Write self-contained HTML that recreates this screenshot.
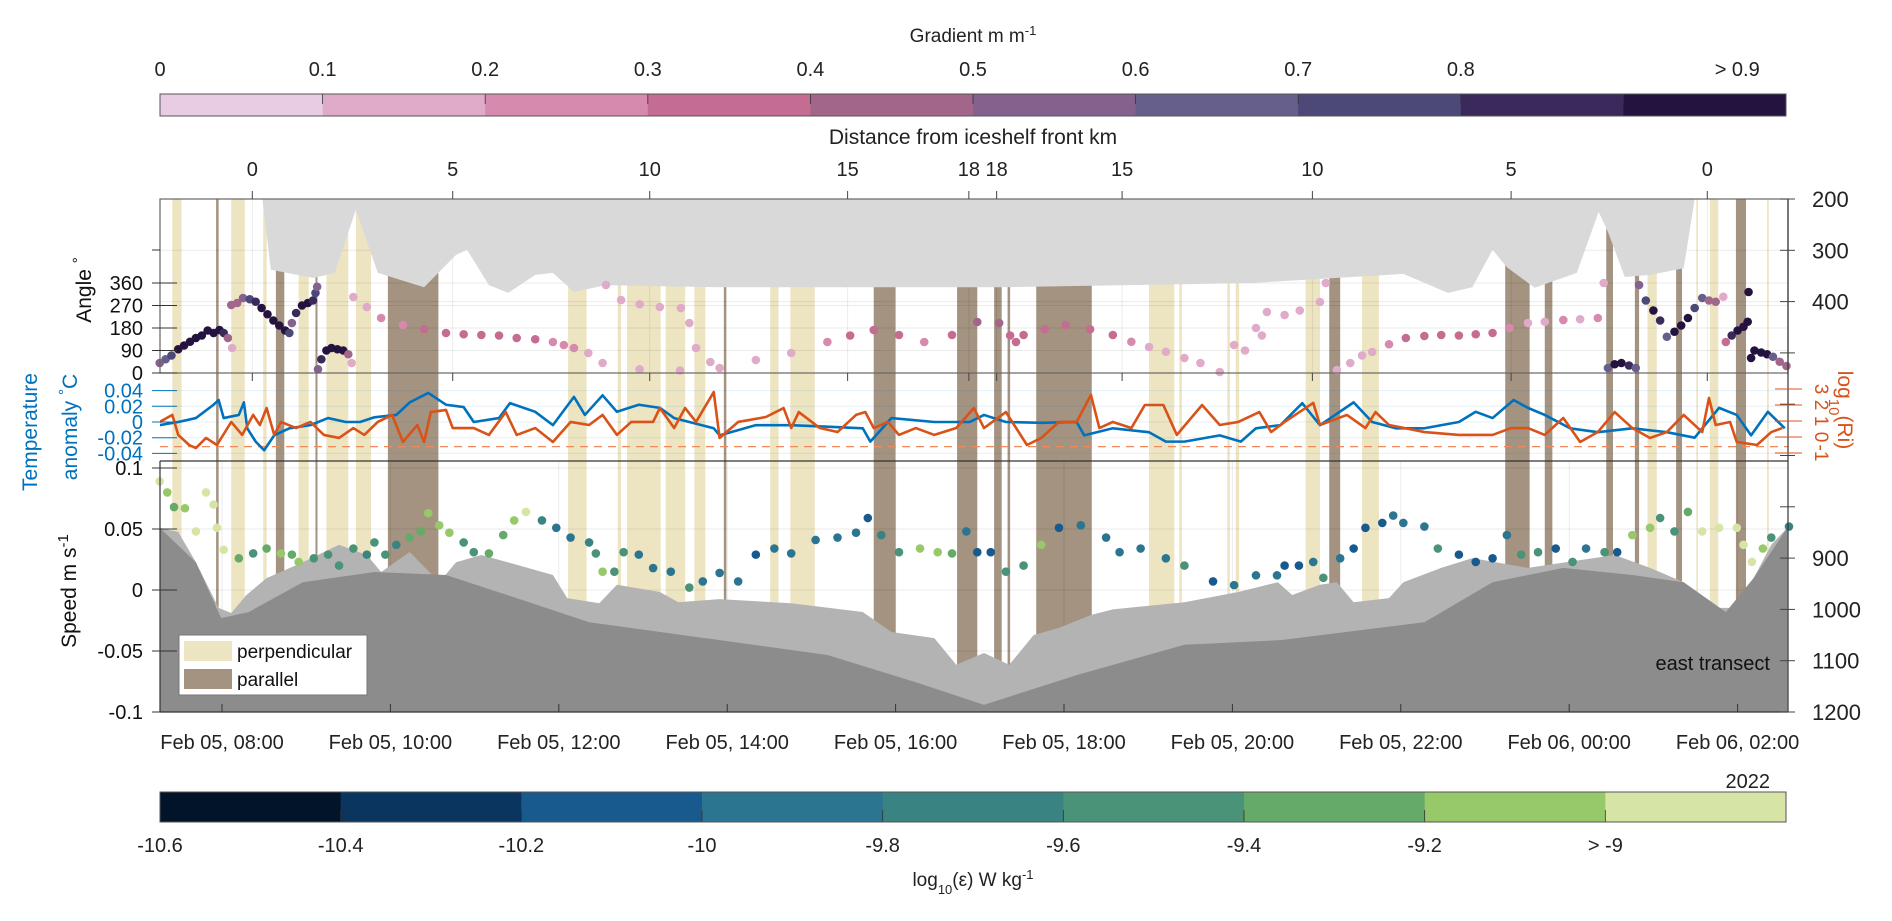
<!DOCTYPE html>
<html><head><meta charset="utf-8"><style>
html,body{margin:0;padding:0;background:#fff}
svg{display:block;font-family:"Liberation Sans",Arial,sans-serif}
</style></head><body>
<svg id="chart" width="1892" height="921" viewBox="0 0 1892 921" xmlns="http://www.w3.org/2000/svg">
<defs><clipPath id="plotclip"><rect x="160" y="199" width="1628" height="513"/></clipPath></defs>
<g id="bands" clip-path="url(#plotclip)"></g>
<g id="grid"></g>
<g id="ice" clip-path="url(#plotclip)"></g>
<g id="bathy" clip-path="url(#plotclip)"></g>
<g id="lines" clip-path="url(#plotclip)"></g>
<g id="dots"></g>
<g id="axes"></g>
<g id="cbars"></g>
<g>
<rect x="179" y="635" width="188" height="60" fill="#fff" stroke="#777" stroke-width="1"/>
<rect x="184" y="641" width="48" height="20" fill="#ede4c1"/>
<rect x="184" y="669" width="48" height="20" fill="#a39380"/>
<text x="237" y="658" font-size="19" fill="#111">perpendicular</text>
<text x="237" y="686" font-size="19" fill="#111">parallel</text>
</g>
<text x="1770" y="670" font-size="20" text-anchor="end" fill="#111">east transect</text>
</svg>
<script>
const iceT=[8.48,8.58,9.09,9.34,9.59,9.85,10.40,10.78,10.91,11.17,11.40,11.72,11.93,12.18,12.56,13.91,17.24,20.21,22.03,22.56,22.85,23.09,23.26,23.59,24.09,24.35,24.46,24.66,24.96,25.36,25.49];
const iceDepth=[200,338,354,344,221,344,372,309,299,368,383,348,344,381,368,372,372,364,346,383,372,299,333,373,344,225,264,352,348,335,200];
const lightT=[7.26,7.48,7.69,7.96,8.11,8.29,8.53,8.96,9.39,9.72,9.89,10.23,10.58,10.78,11.08,11.50,11.93,12.10,12.48,12.69,13.20,13.42,13.91,14.76,15.61,15.95,16.46,16.72,17.05,17.35,17.64,17.94,18.32,18.58,19.43,20.07,20.54,20.71,21.04,21.24,21.44,21.86,22.03,22.48,22.85,23.51,24.54,24.96,25.36,25.74,25.91,26.19,26.40,26.59];
const lightDepth=[841,849,908,997,1007,972,939,908,874,894,927,888,947,908,894,913,933,978,988,952,966,986,980,988,1005,1044,1056,1108,1085,1108,1050,1036,1011,1000,986,966,947,972,952,947,986,978,947,919,900,919,894,919,947,997,997,939,874,841];
const darkT=[7.26,7.69,7.99,8.32,8.96,9.81,10.66,11.50,12.36,13.91,15.19,16.24,17.05,18.15,19.43,20.57,22.28,23.09,23.93,24.75,25.36,25.86,26.19,26.59];
const darkDepth=[841,908,1017,1005,947,927,933,978,1025,1060,1089,1142,1186,1128,1069,1060,1025,947,919,933,947,1005,939,841];
const perpStart=[7.41,8.11,8.49,8.91,9.24,9.59,12.11,12.70,12.81,13.27,13.61,14.51,14.75,19.01,19.37,19.94,20.04,20.87,21.54,24.93,25.51,25.67,26.35];
const perpEnd=[7.52,8.27,8.53,9.03,9.50,9.77,12.33,12.74,13.21,13.50,13.74,14.61,15.04,19.31,19.40,19.97,20.08,21.04,21.74,25.04,25.53,25.77,26.37];
const paraStart=[7.93,8.64,9.11,9.97,13.96,15.74,16.73,17.17,17.33,17.67,21.15,23.24,23.71,24.44,24.78,25.27,25.98];
const paraEnd=[7.96,8.74,9.13,10.57,13.99,16.00,16.97,17.26,17.36,18.33,21.28,23.53,23.80,24.52,24.83,25.34,26.10];
const tempT=[7.26,7.48,7.69,7.90,7.96,8.02,8.20,8.26,8.30,8.40,8.50,8.62,8.80,9.05,9.26,9.47,9.64,9.81,10.07,10.23,10.45,10.66,10.87,10.99,11.29,11.42,11.72,11.93,12.18,12.31,12.52,12.69,12.95,13.20,13.37,13.55,13.84,13.91,14.34,14.76,15.19,15.61,15.70,15.95,16.46,16.88,17.05,17.31,17.73,18.15,18.24,18.58,19.01,19.21,19.43,19.85,20.10,20.28,20.57,20.83,21.04,21.44,21.66,21.94,22.28,22.69,22.89,23.09,23.34,23.51,23.71,24.01,24.34,24.75,25.16,25.49,25.78,25.99,26.16,26.36,26.56];
const tempVal=[-0.004,0,0.005,0.022,0.028,0.005,0.009,0.025,-0.008,-0.025,-0.036,-0.017,-0.008,-0.004,0.005,0,0,0.006,0.009,0.025,0.037,0.022,0.019,0,0.005,0.024,0.013,-0.004,0.032,0.009,0.034,0.013,0.022,0.018,0.005,0,-0.008,-0.017,-0.004,-0.004,-0.006,-0.008,-0.025,0.005,0,0,0.009,0,-0.001,0,-0.017,-0.008,-0.013,-0.025,-0.025,-0.017,-0.025,-0.008,-0.004,0.024,-0.004,0.025,0,-0.008,-0.008,0,0.013,0.005,0.028,0.018,0.009,-0.008,-0.013,-0.008,-0.013,-0.020,0.018,0.009,-0.017,0.013,-0.008];
const riT=[7.26,7.41,7.48,7.61,7.69,7.81,7.94,8.11,8.24,8.37,8.45,8.53,8.62,8.70,8.88,9.05,9.21,9.39,9.56,9.69,9.85,10.02,10.15,10.32,10.40,10.48,10.66,10.74,10.99,11.17,11.37,11.50,11.72,11.93,12.14,12.36,12.52,12.69,12.86,13.12,13.20,13.37,13.50,13.63,13.84,13.91,14.13,14.46,14.67,14.76,14.85,15.10,15.31,15.53,15.64,15.74,15.91,16.04,16.24,16.46,16.72,16.93,17.05,17.31,17.56,17.73,17.94,18.15,18.32,18.42,18.58,18.80,18.96,19.18,19.34,19.64,19.85,20.07,20.32,20.46,20.62,20.96,21.04,21.36,21.58,21.70,21.86,22.28,22.69,23.09,23.31,23.51,23.71,23.93,24.13,24.34,24.54,24.75,24.96,25.16,25.36,25.58,25.66,25.74,25.91,25.99,26.23,26.40,26.53];
const riVal=[0.94,1.38,0.13,-0.5,-0.69,-0.06,-0.5,0.94,0.13,1.38,0.75,1.81,0.13,0.94,0.56,0.94,0.13,-0.06,0.56,0.13,0.94,1.38,-0.31,0.75,-0.31,1.56,1.69,0.56,0.56,0.13,1.56,0.13,0.56,-0.31,0.94,0.75,1.38,0.13,0.94,0.94,1.81,0.56,1.81,0.94,2.81,-0.06,0.94,1.25,1.81,0.56,1.56,0.56,0.31,1.38,1.56,0.56,0.94,0.13,0.56,0.13,0.56,1.81,0.56,1.56,-0.5,-0.06,0.94,0.94,2.63,0.56,0.94,0.56,2.0,2.0,0.13,2.0,0.75,0.94,1.56,0.31,0.94,2.13,0.75,1.38,0.56,1.56,0.75,0.31,0.13,0.13,0.56,0.56,0.13,1.19,-0.31,0.31,1.56,0.56,-0.06,0.31,1.38,0.31,2.44,0.75,0.94,-0.31,-0.5,0.31,0.56];
const riCritical=-0.6;
const angT=[7.26,7.33,7.40,7.48,7.55,7.62,7.69,7.76,7.83,7.90,7.97,8.02,8.07,8.12,8.11,8.18,8.25,8.33,8.40,8.47,8.54,8.61,8.68,8.75,8.80,8.83,8.88,8.95,9.02,9.08,9.11,9.13,9.14,9.18,9.24,9.30,9.37,9.44,9.50,9.54,9.56,9.72,9.89,10.15,10.40,10.66,10.87,11.08,11.29,11.50,11.72,11.93,12.06,12.18,12.35,12.52,12.96,13.44,13.91,14.34,14.76,15.19,15.46,15.74,16.04,16.34,16.67,16.97,17.23,17.36,17.43,17.52,17.77,18.02,18.31,18.58,18.80,19.01,19.21,19.43,19.62,19.85,20.02,20.15,20.28,20.35,20.41,20.62,20.80,21.04,21.11,12.56,12.74,12.96,13.20,13.45,13.55,13.63,13.80,21.24,21.40,21.54,21.66,21.86,22.06,22.28,22.48,22.69,22.89,23.09,23.29,23.51,23.71,23.93,24.13,24.34,24.41,24.46,24.54,24.62,24.71,24.79,24.83,24.91,25.00,25.08,25.16,25.25,25.33,25.41,25.49,25.58,25.66,25.74,25.83,25.86,25.93,26.00,26.07,26.12,26.13,26.16,26.20,26.28,26.35,26.42,26.50,26.58];
const angVal=[40,55,70,95,110,125,140,150,170,160,172,160,140,100,272,280,300,295,285,260,235,210,190,170,160,200,240,270,280,290,320,345,15,55,90,100,95,90,75,40,304,264,220,192,175,160,155,152,150,140,135,124,112,100,80,40,15,10,20,52,80,124,150,172,152,124,152,204,200,150,124,152,175,192,175,152,125,104,85,60,40,4,112,90,180,150,244,232,250,284,360,352,292,275,264,260,200,100,44,12,40,70,84,115,140,148,152,150,155,160,180,200,205,212,215,220,360,20,35,40,30,20,352,290,250,210,145,165,190,220,260,300,290,285,305,124,150,170,185,205,324,60,90,82,75,65,45,28];
const angGrad=[0.55,0.6,0.7,0.9,0.95,0.95,0.95,0.95,0.95,0.95,0.95,0.8,0.45,0.1,0.4,0.45,0.5,0.7,0.8,0.95,0.95,0.95,0.95,0.9,0.7,0.5,0.8,0.95,0.95,0.8,0.7,0.5,0.5,0.8,0.95,0.95,0.95,0.9,0.4,0.15,0.15,0.15,0.2,0.25,0.3,0.3,0.35,0.35,0.35,0.3,0.3,0.25,0.2,0.2,0.15,0.15,0.15,0.1,0.15,0.15,0.15,0.25,0.3,0.3,0.3,0.25,0.3,0.4,0.4,0.3,0.35,0.3,0.3,0.3,0.3,0.3,0.2,0.15,0.15,0.15,0.15,0.1,0.1,0.1,0.15,0.15,0.15,0.15,0.15,0.15,0.1,0.15,0.15,0.15,0.15,0.15,0.1,0.1,0.1,0.1,0.15,0.15,0.15,0.2,0.3,0.35,0.35,0.35,0.35,0.35,0.2,0.15,0.15,0.2,0.15,0.25,0.15,0.6,0.9,0.95,0.8,0.6,0.5,0.7,0.9,0.8,0.6,0.95,0.95,0.9,0.7,0.6,0.45,0.4,0.1,0.3,0.8,0.95,0.95,0.95,0.95,0.95,0.95,0.95,0.9,0.6,0.45,0.4];
const spdT=[7.26,7.35,7.43,7.56,7.69,7.81,7.90,7.94,8.02,8.20,8.37,8.53,8.70,8.83,8.91,9.09,9.26,9.39,9.56,9.72,9.81,9.94,10.07,10.23,10.36,10.45,10.58,10.70,10.87,10.99,11.17,11.34,11.47,11.61,11.80,11.97,12.14,12.36,12.44,12.52,12.66,12.77,12.95,13.12,13.33,13.55,13.71,13.91,14.13,14.34,14.56,14.76,15.05,15.31,15.53,15.67,15.83,16.04,16.29,16.50,16.67,16.84,16.97,17.13,17.31,17.52,17.73,17.94,18.20,18.50,18.66,18.91,19.21,19.43,19.77,20.02,20.28,20.53,20.62,20.79,20.96,21.08,21.28,21.44,21.58,21.78,21.91,22.03,22.28,22.44,22.69,22.89,23.09,23.26,23.43,23.63,23.84,24.04,24.20,24.42,24.57,24.75,24.96,25.08,25.25,25.41,25.58,25.78,25.99,26.07,26.17,26.30,26.40,26.61];
const spdVal=[0.089,0.080,0.068,0.067,0.048,0.080,0.070,0.051,0.033,0.026,0.030,0.034,0.030,0.029,0.023,0.026,0.029,0.020,0.034,0.029,0.039,0.029,0.037,0.043,0.048,0.063,0.053,0.047,0.039,0.031,0.030,0.045,0.057,0.064,0.057,0.051,0.043,0.039,0.030,0.015,0.015,0.031,0.029,0.018,0.015,0.002,0.007,0.014,0.007,0.029,0.034,0.030,0.041,0.043,0.047,0.059,0.045,0.031,0.034,0.031,0.030,0.048,0.031,0.031,0.015,0.020,0.037,0.051,0.053,0.043,0.031,0.034,0.026,0.020,0.007,0.004,0.012,0.012,0.020,0.020,0.023,0.010,0.026,0.034,0.051,0.055,0.061,0.055,0.052,0.034,0.029,0.023,0.026,0.045,0.029,0.031,0.034,0.023,0.034,0.031,0.031,0.045,0.051,0.059,0.048,0.064,0.048,0.051,0.051,0.037,0.023,0.034,0.043,0.052];
const spdEps=[-8.9,-9.0,-9.3,-9.1,-8.9,-8.9,-8.9,-8.9,-8.9,-9.3,-9.4,-9.3,-9.1,-9.3,-9.1,-9.4,-9.4,-9.5,-9.5,-9.7,-9.6,-9.4,-9.7,-9.3,-9.3,-9.1,-9.0,-9.1,-9.4,-9.4,-9.3,-9.3,-9.2,-8.9,-9.7,-9.8,-9.8,-9.7,-9.4,-9.2,-9.4,-9.6,-9.8,-9.9,-9.9,-9.6,-9.8,-9.9,-9.8,-10.0,-9.8,-9.8,-9.8,-9.8,-9.9,-10.0,-9.7,-9.6,-9.2,-9.0,-9.3,-9.9,-10.0,-10.1,-9.5,-9.4,-9.2,-10.1,-9.8,-9.9,-9.9,-9.9,-9.9,-9.5,-10.0,-9.9,-9.9,-9.9,-10.1,-10.2,-9.9,-9.6,-9.9,-10.0,-10.0,-10.2,-9.9,-9.9,-9.9,-9.6,-10.1,-10.1,-10.0,-9.8,-9.4,-9.6,-10.2,-9.4,-9.8,-9.5,-10.1,-9.0,-9.2,-9.5,-9.6,-9.3,-8.9,-8.9,-8.9,-8.9,-8.9,-9.0,-9.5,-9.7];
const timeTicks=[8,10,12,14,16,18,20,22,24,26];
const timeLabels=["Feb 05, 08:00","Feb 05, 10:00","Feb 05, 12:00","Feb 05, 14:00","Feb 05, 16:00","Feb 05, 18:00","Feb 05, 20:00","Feb 05, 22:00","Feb 06, 00:00","Feb 06, 02:00"];
const distTickT=[8.36,10.74,13.08,15.43,16.87,17.20,18.69,20.95,23.31,25.64];
const distLabels=["0","5","10","15","18","18","15","10","5","0"];
const angleTicks=[0,90,180,270,360];
const depthTicks=[200,300,400,500,600,700,800,900,1000,1100,1200];
const depthLabelled=[200,300,400,900,1000,1100,1200];
const speedTicks=[-0.1,-0.05,0,0.05,0.1];
const tempTicks=[0.04,0.02,0,-0.02,-0.04];
const riTicks=[3,2,1,0,-1];
const gradBounds=[0,0.1,0.2,0.3,0.4,0.5,0.6,0.7,0.8,0.9,1.0];
const gradLabelPos=[0,0.1,0.2,0.3,0.4,0.5,0.6,0.7,0.8,0.97];
const gradLabels=["0","0.1","0.2","0.3","0.4","0.5","0.6","0.7","0.8","> 0.9"];
const gradColors=["#e8cce3","#e0aac9","#d68aad","#c56c92","#a2668b","#83628e","#665f8c","#4c4877","#3a2a5c","#25133f"];
const epsBounds=[-10.6,-10.4,-10.2,-10,-9.8,-9.6,-9.4,-9.2,-9,-8.8];
const epsLabels=["-10.6","-10.4","-10.2","-10","-9.8","-9.6","-9.4","-9.2","> -9"];
const epsColors=["#02142a","#0a355e","#185a8e","#2b7590","#3a8383","#4a9278","#65aa68","#97c96b","#d6e5a6"];

const NS="http://www.w3.org/2000/svg";
const X=t=>222+84.2*(t-8);
const yA=a=>373-a*0.25;
const yD=d=>199+(d-200)*0.513;
const yT=v=>422-v*785;
const yR=r=>437-r*16;
const yS=s=>590-s*1220;
function mk(tag,attrs,parent,text){const e=document.createElementNS(NS,tag);for(const k in attrs)e.setAttribute(k,attrs[k]);if(text!==undefined)e.textContent=text;parent.appendChild(e);return e;}
const G=id=>document.getElementById(id);

// bands
perpStart.forEach((s,i)=>{const r=mk('rect',{x:X(s),y:199,width:Math.max(1.5,X(perpEnd[i])-X(s)),height:513,fill:'#ede4c1'},G('bands'));

});
paraStart.forEach((s,i)=>{const r=mk('rect',{x:X(s),y:199,width:Math.max(2,X(paraEnd[i])-X(s)),height:513,fill:'#a39380'},G('bands'));

});

// grid
const grid=G('grid');
angleTicks.slice(1).forEach(a=>mk('line',{x1:160,x2:1788,y1:yA(a),y2:yA(a),stroke:'#000','stroke-opacity':0.08},grid));
[300,400].forEach(d=>mk('line',{x1:160,x2:1788,y1:yD(d),y2:yD(d),stroke:'#000','stroke-opacity':0.08},grid));
distTickT.forEach(t=>mk('line',{x1:X(t),x2:X(t),y1:199,y2:373,stroke:'#000','stroke-opacity':0.08},grid));
tempTicks.forEach(v=>mk('line',{x1:160,x2:1788,y1:yT(v),y2:yT(v),stroke:'#0072bd','stroke-opacity':0.1},grid));
timeTicks.forEach(t=>mk('line',{x1:X(t),x2:X(t),y1:461,y2:712,stroke:'#000','stroke-opacity':0.08},grid));
speedTicks.forEach(s=>mk('line',{x1:160,x2:1788,y1:yS(s),y2:yS(s),stroke:'#000','stroke-opacity':0.08},grid));

// ice shelf
let p=`${X(iceT[0])},199 `+iceT.map((t,i)=>`${X(t)},${yD(iceDepth[i])}`).join(' ')+` ${X(iceT[iceT.length-1])},199`;
const icep=mk('polygon',{points:p,fill:'#d9d9d9'},G('ice'));


// bathymetry
p=lightT.map((t,i)=>`${X(t)},${yD(lightDepth[i])}`).join(' ')+` ${X(lightT[lightT.length-1])},712 ${X(lightT[0])},712`;
const lp=mk('polygon',{points:p,fill:'#b3b3b3'},G('bathy'));


p=darkT.map((t,i)=>`${X(t)},${yD(darkDepth[i])}`).join(' ')+` ${X(darkT[darkT.length-1])},712 ${X(darkT[0])},712`;
const dp=mk('polygon',{points:p,fill:'#8c8c8c'},G('bathy'));



// lines
const rl=mk('line',{x1:160,x2:1788,y1:yR(riCritical),y2:yR(riCritical),stroke:'#f08a5d','stroke-width':1.3,'stroke-dasharray':'8,6'},G('lines'));


const tl=mk('polyline',{points:tempT.map((t,i)=>`${X(t)},${yT(tempVal[i])}`).join(' '),fill:'none',stroke:'#0072bd','stroke-width':2.6,'stroke-linejoin':'round'},G('lines'));


const ol=mk('polyline',{points:riT.map((t,i)=>`${X(t)},${yR(riVal[i])}`).join(' '),fill:'none',stroke:'#d95319','stroke-width':2.6,'stroke-linejoin':'round'},G('lines'));



// dots
angT.forEach((t,i)=>{const b=Math.min(9,Math.max(0,Math.floor(angGrad[i]*10)));
const c=mk('circle',{cx:X(t),cy:yA(angVal[i]),r:4.3,fill:gradColors[b]},G('dots'));

});
spdT.forEach((t,i)=>{const b=Math.min(8,Math.max(0,Math.floor((spdEps[i]+10.6)/0.2)));
const c=mk('circle',{cx:X(t),cy:yS(spdVal[i]),r:4.3,fill:epsColors[b]},G('dots'));

});

// axes
const ax=G('axes');
mk('rect',{x:160,y:199,width:1628,height:174,fill:'none',stroke:'#666','stroke-width':1.2},ax);
mk('line',{x1:160,x2:1788,y1:461,y2:461,stroke:'#333','stroke-width':1.2},ax);
mk('line',{x1:160,x2:1788,y1:712,y2:712,stroke:'#333','stroke-width':1.2},ax);
mk('line',{x1:160,x2:160,y1:461,y2:712,stroke:'#333','stroke-width':1.2},ax);
mk('line',{x1:1788,x2:1788,y1:199,y2:712,stroke:'#333','stroke-width':1.2},ax);
distTickT.forEach((t,i)=>{mk('line',{x1:X(t),x2:X(t),y1:191,y2:199,stroke:'#444'},ax);mk('line',{x1:X(t),x2:X(t),y1:373,y2:381,stroke:'#444'},ax);
const tx=mk('text',{x:X(t),y:176,'font-size':20,'text-anchor':'middle',fill:'#222'},ax,distLabels[i]);

});
const dt=mk('text',{x:973,y:144,'font-size':21,'text-anchor':'middle',fill:'#222'},ax,'Distance from iceshelf front km');


angleTicks.forEach(a=>{mk('line',{x1:152,x2:177,y1:yA(a),y2:yA(a),stroke:'#333'},ax);
const tx=mk('text',{x:143,y:yA(a)+7,'font-size':20,'text-anchor':'end',fill:'#111'},ax,String(a));

});
mk('line',{x1:152,x2:160,y1:250,y2:250,stroke:'#333'},ax);
tempTicks.forEach(v=>{mk('line',{x1:152,x2:177,y1:yT(v),y2:yT(v),stroke:'#0072bd'},ax);
const tx=mk('text',{x:143,y:yT(v)+7,'font-size':20,'text-anchor':'end',fill:'#0072bd'},ax,String(v));

});
speedTicks.forEach(s=>{mk('line',{x1:152,x2:177,y1:yS(s),y2:yS(s),stroke:'#333'},ax);
const tx=mk('text',{x:143,y:yS(s)+7,'font-size':20,'text-anchor':'end',fill:'#111'},ax,String(s));

});
depthTicks.forEach(d=>{mk('line',{x1:1780,x2:1795,y1:yD(d),y2:yD(d),stroke:'#444'},ax);
if(depthLabelled.includes(d)){const tx=mk('text',{x:1812,y:yD(d)+8,'font-size':22,fill:'#222'},ax,String(d));

}});
riTicks.forEach(r=>{mk('line',{x1:1775,x2:1802,y1:yR(r),y2:yR(r),stroke:'#d95319'},ax);
const tx=mk('text',{x:1806,y:yR(r),'font-size':19,fill:'#d95319','text-anchor':'middle',transform:`rotate(90 1813 ${yR(r)})`},ax,String(r));
tx.setAttribute('x',1813);tx.setAttribute('y',yR(r)-2);

});
timeTicks.forEach((t,i)=>{mk('line',{x1:X(t),x2:X(t),y1:704,y2:712,stroke:'#333'},ax);
const tx=mk('text',{x:X(t),y:749,'font-size':20,'text-anchor':'middle',fill:'#222'},ax,timeLabels[i]);

});
const yr=mk('text',{x:1770,y:788,'font-size':20,'text-anchor':'end',fill:'#222'},ax,'2022');


function vlabel(x,y,txt,col,name,rot){const t=mk('text',{x:x,y:y,'font-size':21,'text-anchor':'middle',fill:col,transform:`rotate(${rot} ${x} ${y})`},ax);
t.innerHTML=txt;

}
vlabel(91,290,'Angle <tspan baseline-shift="super" font-size="15">°</tspan>','#111','angle-axis-title',-90);
vlabel(37,432,'Temperature','#0072bd','temperature-axis-title',-90);
vlabel(77,427,'anomaly <tspan baseline-shift="super" font-size="15">°</tspan>C','#0072bd','temperature-axis-title-2',-90);
vlabel(76,591,'Speed m s<tspan baseline-shift="super" font-size="15">-1</tspan>','#111','speed-axis-title',-90);
vlabel(1838,410,'log<tspan baseline-shift="sub" font-size="15">10</tspan>(Ri)','#d95319','ri-axis-title',90);

// colorbars
const cb=G('cbars');
const W=1626;
gradColors.forEach((c,i)=>{const r=mk('rect',{x:160+gradBounds[i]*W,y:94,width:(gradBounds[i+1]-gradBounds[i])*W+0.5,height:22,fill:c},cb);


mk('line',{x1:160+gradBounds[i]*W,x2:160+gradBounds[i]*W,y1:94,y2:104,stroke:'#333','stroke-width':0.8},cb);});
mk('rect',{x:160,y:94,width:W,height:22,fill:'none',stroke:'#555','stroke-width':1},cb);
gradLabels.forEach((l,i)=>{const t=mk('text',{x:160+gradLabelPos[i]*W,y:76,'font-size':20,'text-anchor':'middle',fill:'#222'},cb,l);

});
const gt=mk('text',{x:973,y:42,'font-size':19,'text-anchor':'middle',fill:'#222'},cb);
gt.innerHTML='Gradient m m<tspan baseline-shift="super" font-size="13">-1</tspan>';


const EW=W/9;
epsColors.forEach((c,i)=>{const r=mk('rect',{x:160+i*EW,y:792,width:EW+0.5,height:30,fill:c},cb);


mk('line',{x1:160+i*EW,x2:160+i*EW,y1:810,y2:822,stroke:'#333','stroke-width':0.8},cb);});
mk('rect',{x:160,y:792,width:W,height:30,fill:'none',stroke:'#555','stroke-width':1},cb);
epsLabels.forEach((l,i)=>{const t=mk('text',{x:160+(epsBounds[i]-epsBounds[0])/0.2*EW,y:852,'font-size':20,'text-anchor':'middle',fill:'#222'},cb,l);

});
const et=mk('text',{x:973,y:886,'font-size':19,'text-anchor':'middle',fill:'#222'},cb);
et.innerHTML='log<tspan baseline-shift="sub" font-size="13">10</tspan>(ε) W kg<tspan baseline-shift="super" font-size="13">-1</tspan>';


</script>
</body></html>
